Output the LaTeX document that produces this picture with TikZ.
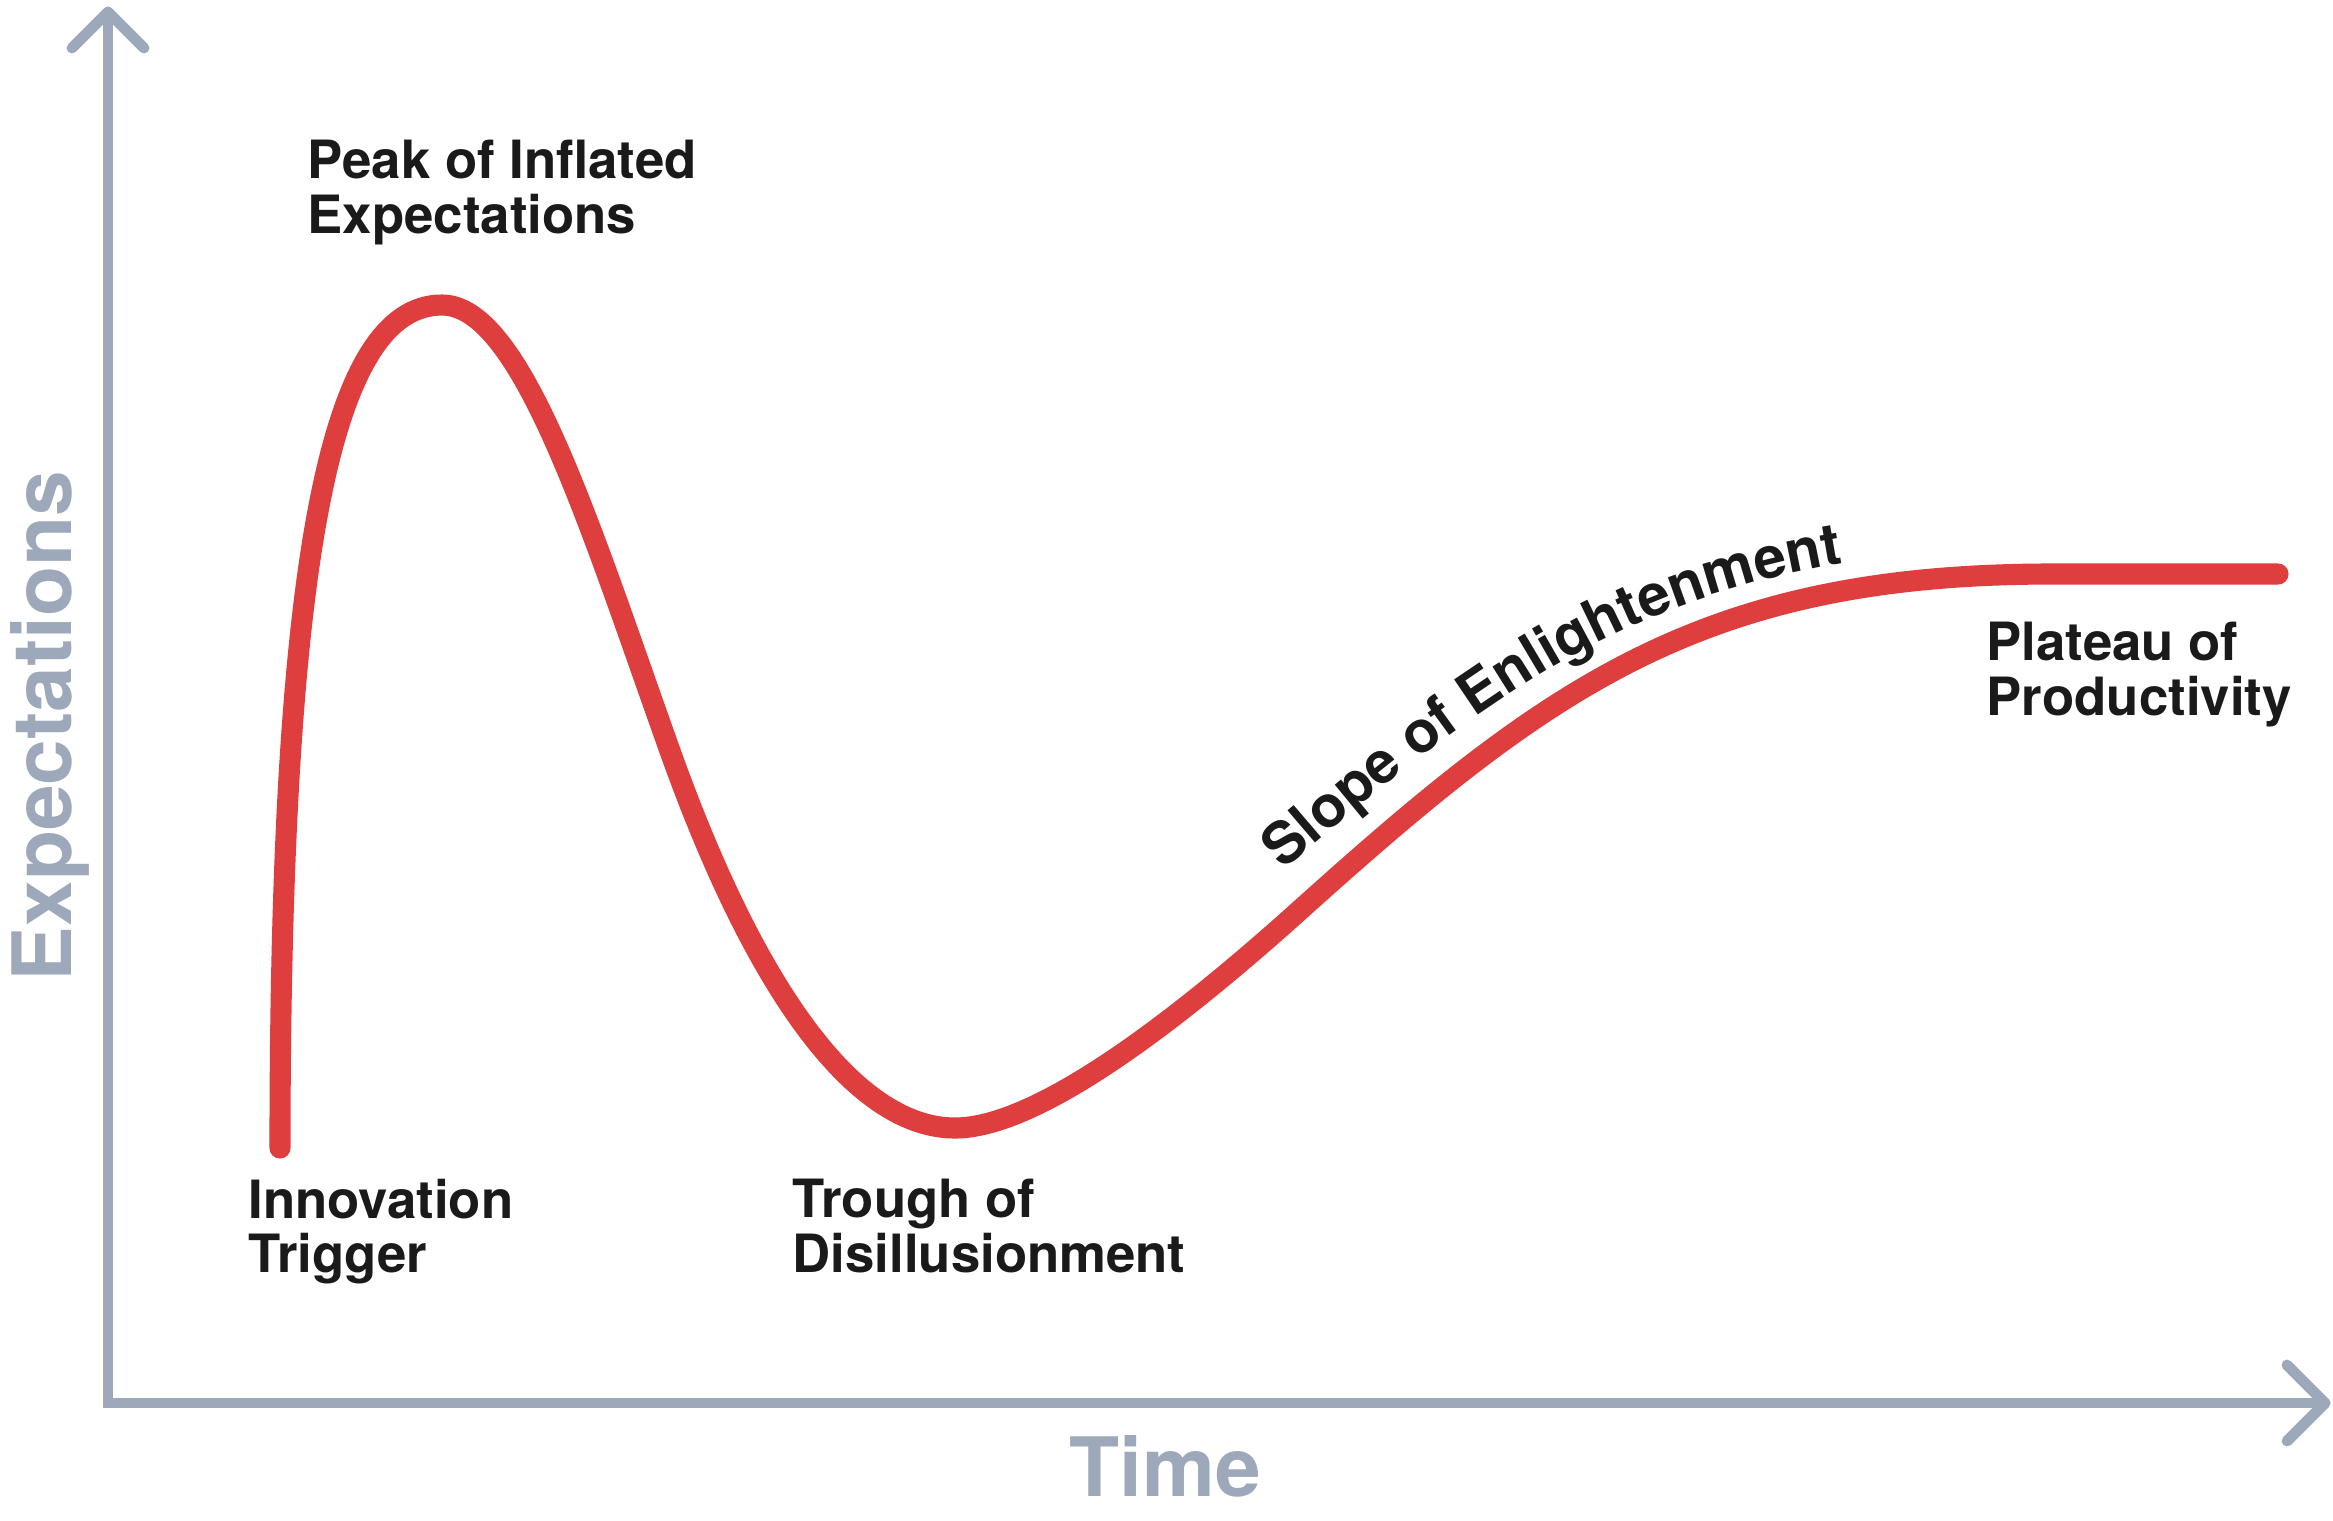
\documentclass[tikz,border=0pt]{standalone}
\usepackage{fontspec}
\setmainfont{TeX Gyre Heros}
\usetikzlibrary{decorations.text}
\definecolor{hypered}{RGB}{222,62,62}
\definecolor{axisgrey}{RGB}{157,168,186}
\definecolor{labelblack}{RGB}{26,26,26}
\begin{document}
\begin{tikzpicture}[x=0.01cm,y=-0.01cm,
  axisline/.style={draw=axisgrey,line width=3.1pt,line cap=round,line join=round},
  hype/.style={draw=hypered,line width=6pt,line cap=round,line join=round},
  phase/.style={font=\fontsize{15}{15.6}\selectfont\bfseries,text=labelblack,align=left,anchor=north west,inner sep=0pt},
  axislabel/.style={font=\fontsize{23.3}{24}\selectfont\bfseries,text=axisgrey,inner sep=0pt,anchor=base}]

\useasboundingbox (0,0) rectangle (2333,1521);
\fill[white] (0,0) rectangle (2333,1521);

% axes
\coordinate (ytip) at (108,12);
\coordinate (origin) at (108,1403);
\coordinate (xtip) at (2325,1403);
\draw[axisline,line join=miter] (ytip) -- (origin) -- (xtip);
\draw[axisline] (72,48) -- (ytip) -- (144,48);
\draw[axisline] (2287,1365) -- (xtip) -- (2287,1441);

\node[axislabel,rotate=90] (ylabel) at (71,726) {Expectations};
\node[axislabel] (xlabel) at (1165,1496) {Time};

% hype curve
\coordinate (trigger) at (280,1148);
\coordinate (peakpt) at (442,305);
\coordinate (troughpt) at (955,1128);
\coordinate (plateaupt) at (2053,574);
\coordinate (curveend) at (2278,574);
\draw[hype] (trigger) .. controls (280,560) and (330,305) .. (peakpt)
  .. controls (522,305) and (590,527) .. (670,751)
  .. controls (760,1003) and (860,1128) .. (troughpt)
  .. controls (1035,1128) and (1170,1027) .. (1300,910)
  .. controls (1550,685) and (1703,574) .. (plateaupt)
  -- (curveend);

% phase labels
\node[phase] (peak) at (307,139) {Peak of Inflated\\Expectations};
\node[phase] (innovation) at (248,1178) {Innovation\\Trigger};
\node[phase] (trough) at (792,1178) {Trough of\\Disillusionment};
\node[phase] (plateau) at (1986,621) {Plateau of\\Productivity};

\path[decorate,decoration={text along path,text align={left indent=4pt},
  text={|\fontsize{16.5}{17}\selectfont\bfseries\color{labelblack}|Slope of Enlightenment}}]
  (1273,880) .. controls (1527,657) and (1695,547) .. (2053,549);
\end{tikzpicture}
\end{document}
